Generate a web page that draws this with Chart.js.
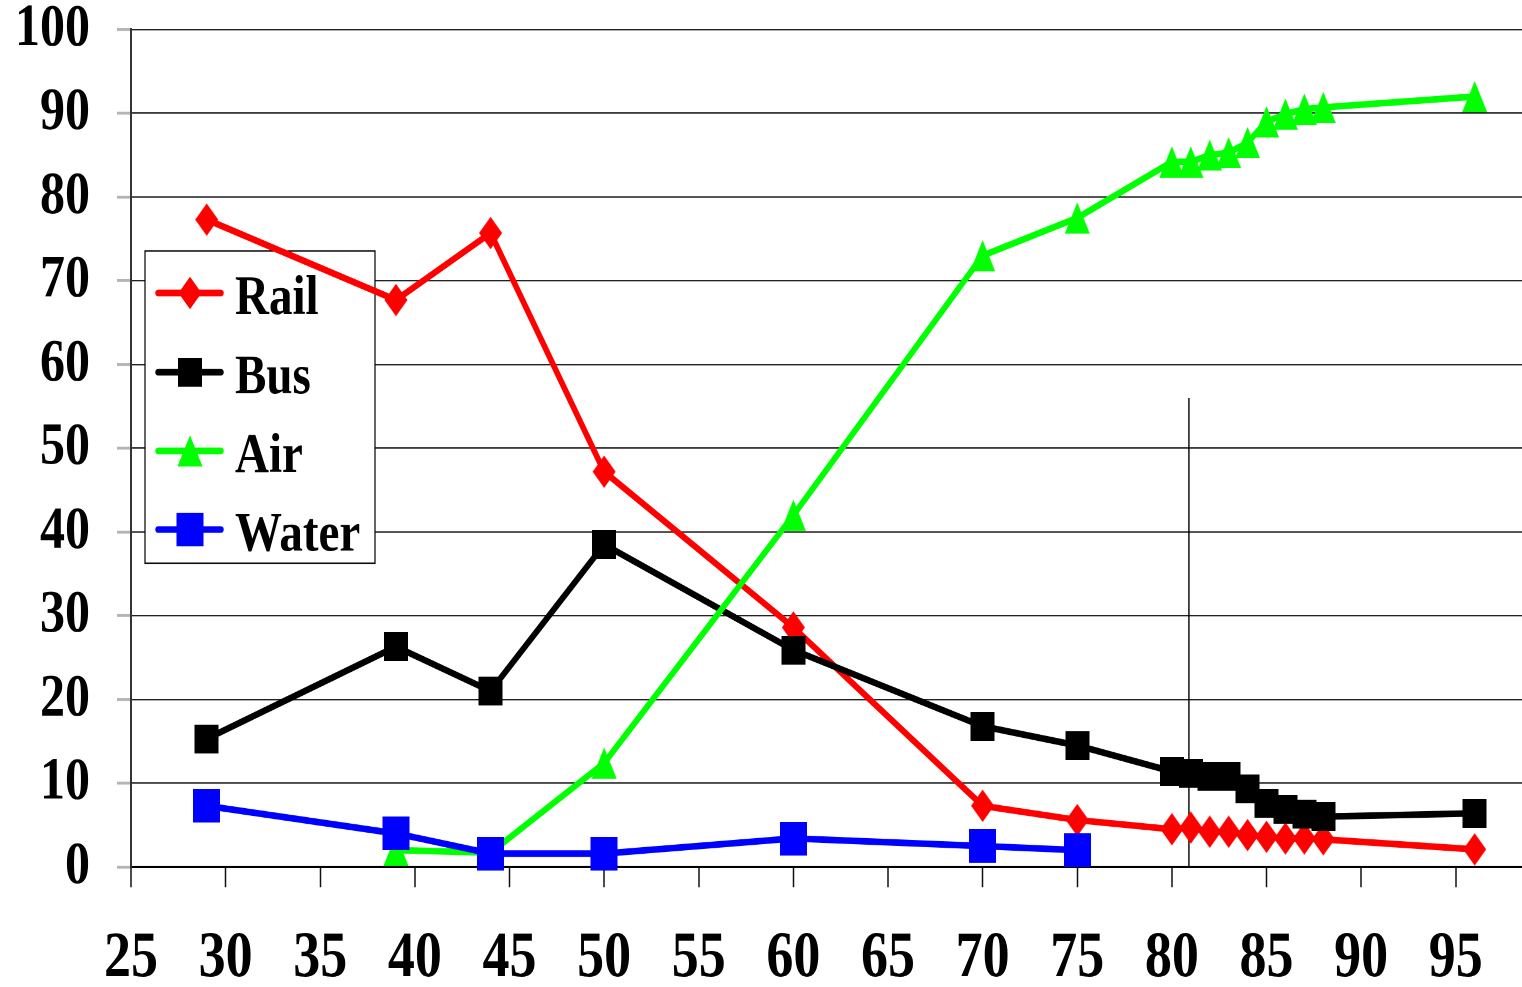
<!DOCTYPE html>
<html>
<head>
<meta charset="utf-8">
<title>Modal share</title>
<script src="https://cdn.jsdelivr.net/npm/chart.js@4/dist/chart.umd.min.js"></script>
<style>
  html, body { margin: 0; padding: 0; background: #fff; overflow: hidden; }
  /* the chart is drawn on a shorter canvas and stretched to full height (tall glyphs and markers) */
  #wrap { position: absolute; left: 0; top: 0; width: 1522px; height: 822px;
          transform-origin: 0 0; transform: scale(1, 1.20073); }
</style>
</head>
<body>
<div id="wrap"><canvas id="c" width="1522" height="822"></canvas></div>
<script>
// ---- data: share (%) by year ----
const railYears  = [29, 39, 44, 50, 60, 70, 75, 80, 81, 82, 83, 84, 85, 86, 87, 88, 96];
const railShare  = [77.3, 67.7, 75.7, 47.2, 28.6, 7.3, 5.6, 4.5, 4.7, 4.2, 4.2, 3.8, 3.6, 3.4, 3.4, 3.3, 2.1];

const busYears   = [29, 39, 44, 50, 60, 70, 75, 80, 81, 82, 83, 84, 85, 86, 87, 88, 96];
const busShare   = [15.3, 26.3, 21.0, 38.5, 25.9, 16.8, 14.5, 11.4, 11.2, 10.8, 10.8, 9.3, 7.6, 6.9, 6.3, 6.0, 6.4];

const airYears   = [39, 44, 50, 60, 70, 75, 80, 81, 82, 83, 84, 85, 86, 87, 88, 96];
const airShare   = [2.0, 1.7, 12.4, 42.0, 73.0, 77.5, 84.2, 84.2, 85.0, 85.3, 86.5, 89.0, 89.9, 90.5, 90.7, 92.0];

const waterYears = [29, 39, 44, 50, 60, 70, 75];
const waterShare = [7.3, 4.0, 1.6, 1.6, 3.4, 2.5, 2.0];

// thin vertical rule near 1981
const ruleYears  = [80.9, 80.9];
const ruleShare  = [0, 56];

const xTickValues = [25, 30, 35, 40, 45, 50, 55, 60, 65, 70, 75, 80, 85, 90, 95];
const yTickValues = [0, 10, 20, 30, 40, 50, 60, 70, 80, 90, 100];

const seriesLabels = ['Rail', 'Bus', 'Air', 'Water'];

const SERIF = "'Liberation Serif', 'Times New Roman', serif";

function toPoints(xs, ys) { return xs.map((x, i) => ({ x: x, y: ys[i] })); }

// marker images, rendered at 4x and shown at their nominal size
function makeMarker(w, h, color, draw) {
  const k = 4;
  const c = document.createElement('canvas');
  c.width = w * k; c.height = h * k;
  const g = c.getContext('2d');
  g.scale(k, k);
  g.fillStyle = color;
  g.beginPath();
  draw(g, w, h);
  g.closePath();
  g.fill();
  return new Promise(resolve => {
    const img = new Image();
    img.onload = () => resolve(img);
    img.src = c.toDataURL();
    img.width = w; img.height = h;
  });
}

Promise.all([
  makeMarker(23, 27, '#ff0000', (g, w, h) => { g.moveTo(w / 2, 0); g.lineTo(w, h / 2); g.lineTo(w / 2, h); g.lineTo(0, h / 2); }),
  makeMarker(24, 24, '#000000', (g, w, h) => { g.rect(0, 0, w, h); }),
  makeMarker(25, 26, '#00ff00', (g, w, h) => { g.moveTo(w / 2, 0); g.lineTo(w, h); g.lineTo(0, h); }),
  makeMarker(27, 28, '#0000ff', (g, w, h) => { g.rect(0, 0, w, h); })
]).then(([diamond, square, triangle, blueSquare]) => {
  const markers = [diamond, square, triangle, blueSquare];

  // boxed legend in the upper left of the plot, painted over the grid but under the series
  const legendBox = {
    id: 'legendBox',
    beforeDatasetsDraw(chart) {
      const ctx = chart.ctx;
      const left = 145, top = 209, right = 375, bottom = 469;
      ctx.save();
      ctx.fillStyle = '#ffffff';
      ctx.fillRect(left, top, right - left, bottom - top);
      ctx.strokeStyle = '#000000';
      ctx.lineWidth = 1.2;
      ctx.strokeRect(left, top, right - left, bottom - top);
      const rows = [244, 310, 375.5, 441];
      chart.data.datasets.slice(0, 4).forEach((ds, i) => {
        const y = rows[i];
        ctx.strokeStyle = ds.borderColor;
        ctx.lineWidth = 5.5;
        ctx.lineCap = 'round';
        ctx.beginPath();
        ctx.moveTo(158, y);
        ctx.lineTo(221, y);
        ctx.stroke();
        const m = markers[i];
        ctx.drawImage(m, 190 - m.width / 2, y - m.height / 2, m.width, m.height);
        ctx.fillStyle = '#000000';
        ctx.font = 'bold 47px ' + SERIF;
        ctx.textAlign = 'left';
        ctx.textBaseline = 'alphabetic';
        ctx.fillText(ds.label, 235, y + 17.5);
      });
      ctx.restore();
    }
  };

  const colors = ['#ff0000', '#000000', '#00ff00', '#0000ff'];
  const xs = [railYears, busYears, airYears, waterYears];
  const ys = [railShare, busShare, airShare, waterShare];

  const datasets = seriesLabels.map((label, i) => ({
    label: label,
    data: toPoints(xs[i], ys[i]),
    borderColor: colors[i],
    backgroundColor: colors[i],
    borderWidth: 5.5,
    pointStyle: markers[i],
    pointRadius: 13,
    pointHoverRadius: 13,
    order: 4 - i,
    clip: false
  }));
  datasets.push({
    label: 'rule',
    data: toPoints(ruleYears, ruleShare),
    borderColor: '#000000',
    borderWidth: 1.4,
    pointRadius: 0,
    order: 10
  });

  new Chart(document.getElementById('c'), {
    type: 'line',
    data: { datasets: datasets },
    options: {
      responsive: false,
      animation: false,
      devicePixelRatio: 2,
      events: [],
      layout: { autoPadding: false, padding: { top: 24.57, left: 0, right: 0, bottom: 0 } },
      elements: { line: { tension: 0 } },
      plugins: { legend: { display: false }, tooltip: { enabled: false } },
      scales: {
        x: {
          type: 'linear',
          min: 25,
          max: 98.5,
          afterBuildTicks: s => { s.ticks = xTickValues.map(v => ({ value: v })); },
          afterFit: s => { s.height = 100; s.paddingLeft = 0; s.paddingRight = 0; },
          grid: { drawOnChartArea: false, drawTicks: true, tickLength: 17, tickColor: '#111', tickWidth: 1.5 },
          border: { display: true, color: '#000', width: 2 },
          ticks: {
            color: '#000',
            font: { family: SERIF, size: 54, weight: 'bold', lineHeight: 1 },
            padding: 33,
            maxRotation: 0,
            autoSkip: false
          }
        },
        y: {
          type: 'linear',
          min: 0,
          max: 100,
          afterBuildTicks: s => { s.ticks = yTickValues.map(v => ({ value: v })); },
          afterFit: s => { s.width = 131; s.paddingTop = 0; s.paddingBottom = 0; },
          grid: { color: '#222', lineWidth: 1.3, drawTicks: true, tickLength: 14, tickColor: '#b4b4b4', tickWidth: 2.4 },
          border: { display: true, color: '#333', width: 2 },
          ticks: {
            color: '#000',
            font: { family: SERIF, size: 50, weight: 'bold', lineHeight: 1 },
            padding: 27
          }
        }
      }
    },
    plugins: [legendBox]
  });
});
</script>
</body>
</html>
